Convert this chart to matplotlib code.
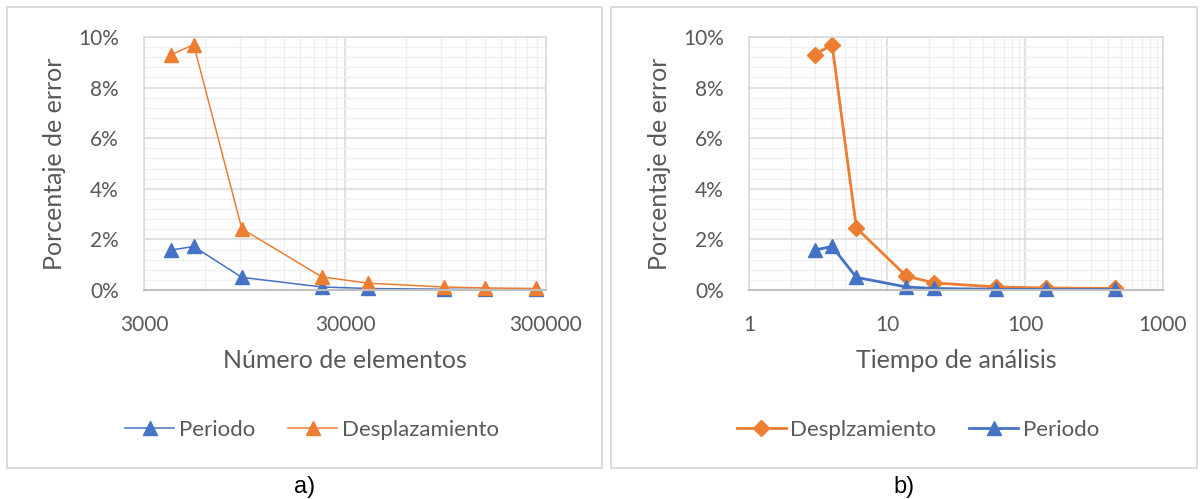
import numpy as np
import matplotlib
matplotlib.use("Agg")
import matplotlib.pyplot as plt
from matplotlib.patches import Rectangle
from matplotlib.ticker import FixedLocator, FuncFormatter, MultipleLocator, LogLocator, NullFormatter

plt.rcParams['font.family'] = ['Lato', 'DejaVu Sans']

# errores vs numero de elementos (a) y vs tiempo de analisis (b)
elementos = [4100, 5300, 9200, 23000, 39000, 93000, 150000, 267000]
periodo_a = [1.58, 1.72, 0.50, 0.12, 0.06, 0.03, 0.02, 0.02]
desplaz_a = [9.30, 9.70, 2.42, 0.52, 0.27, 0.12, 0.08, 0.06]

tiempo = [3.0, 4.0, 6.0, 13.8, 22.0, 62.0, 142.0, 446.0]
desplaz_b = [9.30, 9.70, 2.45, 0.55, 0.28, 0.12, 0.08, 0.06]
periodo_b = [1.58, 1.72, 0.50, 0.12, 0.06, 0.03, 0.02, 0.02]

azul = '#4472C4'
naranja = '#ED7D31'
gris_txt = '#595959'

W, H = 1202, 499
fig = plt.figure(figsize=(W / 100, H / 100), dpi=100)


def px(x0, y0, x1, y1):
    return [x0 / W, 1 - y1 / H, (x1 - x0) / W, (y1 - y0) / H]


# marcos de cada grafico
for x0, x1 in [(7, 602), (611, 1197)]:
    fig.patches.append(Rectangle((x0 / W, 1 - 468 / H), (x1 - x0) / W, (468 - 7) / H,
                                 transform=fig.transFigure, fill=False,
                                 edgecolor='#D9D9D9', linewidth=1.3))

ax1 = fig.add_axes(px(144, 37, 546, 290))
ax2 = fig.add_axes(px(749, 37, 1163, 290))


def estilo(ax):
    ax.set_ylim(0, 10)
    ax.yaxis.set_major_locator(MultipleLocator(2))
    ax.yaxis.set_minor_locator(MultipleLocator(0.4))
    ax.yaxis.set_major_formatter(FuncFormatter(lambda v, p: f"{v:.0f}%"))
    ax.grid(which='major', color='#D9D9D9', linewidth=1.1)
    ax.grid(which='minor', color='#F0F0F0', linewidth=1.0)
    ax.set_axisbelow(True)
    for s in ax.spines.values():
        s.set_color('#D9D9D9')
        s.set_linewidth(1.1)
    ax.spines['bottom'].set_color('#BFBFBF')
    ax.spines['bottom'].set_linewidth(1.5)
    ax.tick_params(which='both', length=0, colors=gris_txt, labelsize=15)
    ax.tick_params(axis='x', pad=18)
    ax.tick_params(axis='y', pad=18)
    ax.set_ylabel("Porcentaje de error", fontsize=18, color=gris_txt, labelpad=9)


# a) numero de elementos
ax1.set_xscale('log')
ax1.set_xlim(3000, 300000)
ax1.xaxis.set_major_locator(FixedLocator([3000, 30000, 300000]))
ax1.xaxis.set_major_formatter(FuncFormatter(lambda v, p: f"{v:.0f}"))
ax1.xaxis.set_minor_locator(FixedLocator([k * 3000 for k in range(2, 10)] +
                                         [k * 30000 for k in range(2, 10)]))
ax1.xaxis.set_minor_formatter(NullFormatter())
estilo(ax1)
ax1.plot(elementos, periodo_a, color=azul, lw=1.1, marker='^', ms=10.5, label='Periodo', clip_on=False)
ax1.plot(elementos, desplaz_a, color=naranja, lw=1.1, marker='^', ms=10.5, label='Desplazamiento', clip_on=False)
ax1.set_xlabel("Número de elementos", fontsize=18, color=gris_txt, labelpad=10)

# b) tiempo de analisis
ax2.set_xscale('log')
ax2.set_xlim(1, 1000)
ax2.xaxis.set_major_locator(FixedLocator([1, 10, 100, 1000]))
ax2.xaxis.set_major_formatter(FuncFormatter(lambda v, p: f"{v:.0f}"))
ax2.xaxis.set_minor_locator(LogLocator(base=10, subs=np.arange(2, 10)))
ax2.xaxis.set_minor_formatter(NullFormatter())
estilo(ax2)
ax2.plot(tiempo, desplaz_b, color=naranja, lw=2.0, marker='D', ms=8.5, label='Desplzamiento', clip_on=False)
ax2.plot(tiempo, periodo_b, color=azul, lw=2.0, marker='^', ms=10.5, label='Periodo', clip_on=False)
ax2.set_xlabel("Tiempo de análisis", fontsize=18, color=gris_txt, labelpad=10)

for ax, cx in [(ax1, 312), (ax2, 918)]:
    h, l = ax.get_legend_handles_labels()
    fig.legend(h, l, loc='center', bbox_to_anchor=(cx / W, 1 - 430 / H), ncol=2,
               frameon=False, fontsize=16, labelcolor=gris_txt,
               handlelength=2.2, handletextpad=0.2, columnspacing=1.5)

fig.text(305 / W, 1 - 487 / H, "a)", ha='center', va='center', fontsize=17,
         family='Liberation Sans', color='black')
fig.text(904 / W, 1 - 487 / H, "b)", ha='center', va='center', fontsize=17,
         family='Liberation Sans', color='black')

fig.savefig("out.png", dpi=100)
